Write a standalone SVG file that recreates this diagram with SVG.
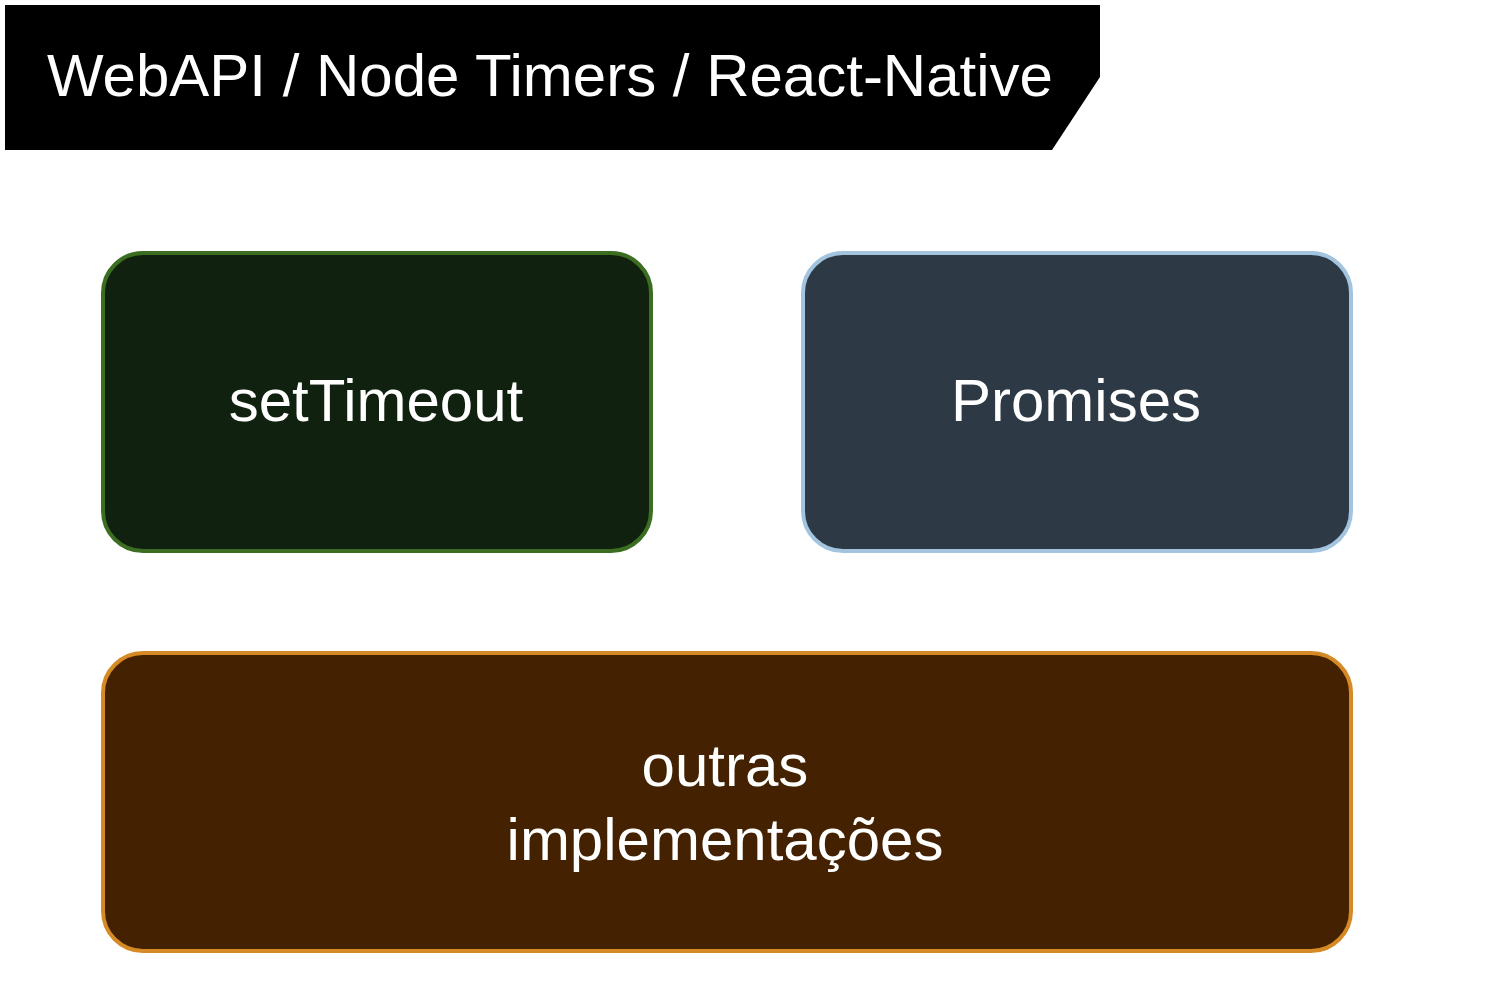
<svg xmlns="http://www.w3.org/2000/svg" width="1510" height="1005" viewBox="0 0 1510 1005">
<style>
text{font-family:"Liberation Sans",Arial,sans-serif;font-size:60px;fill:#ffffff;text-anchor:middle}
.box{stroke-width:4}
</style>
<rect width="1510" height="1005" fill="#ffffff"/>
<g id="title">
<polygon points="5,5 1100,5 1100,77 1052,150 5,150" fill="#000000"/>
<text x="550" y="96">WebAPI / Node Timers / React-Native</text>
</g>
<g id="settimeout">
<rect class="box" x="103" y="253" width="548" height="298" rx="40" fill="#10220f" stroke="#3c6e22"/>
<text x="376" y="421">setTimeout</text>
</g>
<g id="promises">
<rect class="box" x="803" y="253" width="548" height="298" rx="40" fill="#2d3a46" stroke="#a2c4df"/>
<text x="1076" y="421">Promises</text>
</g>
<g id="outras">
<rect class="box" x="103" y="653" width="1248" height="298" rx="40" fill="#442100" stroke="#d68a26"/>
<text x="725" y="786">outras</text>
<text x="725" y="860">implementações</text>
</g>
<g id="connectors"/>
</svg>
